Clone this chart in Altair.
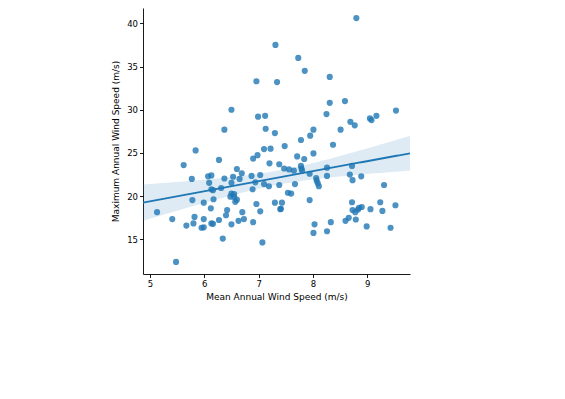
import altair as alt
import numpy as np
import pandas as pd

mean_speed = [7.31, 6.96, 7.34, 6.50, 6.99, 7.12, 6.37, 7.13, 7.30, 8.80,
              7.73, 7.85, 8.31, 8.31, 8.59, 8.25, 9.53, 9.05, 9.08, 9.17,
              8.69, 8.77, 8.51, 8.01, 7.95, 7.78, 7.48, 7.10, 7.22, 5.84,
              8.37, 5.62, 5.77, 6.07, 6.13, 6.09, 6.13, 5.78, 5.99, 6.12,
              5.13, 5.41, 5.82, 5.67, 5.80, 5.99, 5.95, 5.99, 6.13, 5.48,
              6.27, 6.37, 6.53, 6.60, 6.69, 6.65, 6.50, 6.31, 6.16, 6.90,
              6.98, 7.20, 7.38, 6.87, 7.03, 6.94, 7.10, 7.19, 6.89, 7.38,
              6.17, 6.50, 6.55, 6.48, 6.55, 6.60, 6.57, 6.96, 7.03, 7.30,
              7.40, 6.42, 6.70, 6.40, 6.27, 6.16, 6.50, 6.63, 6.73, 6.90,
              6.34, 7.07, 8.01, 7.71, 7.84, 7.47, 7.56, 7.65, 7.78, 7.79,
              7.80, 7.94, 8.06, 8.07, 8.09, 8.11, 8.26, 8.26, 7.67, 7.54,
              7.60, 7.94, 7.43, 7.41, 8.03, 8.01, 8.33, 8.26, 8.60, 8.72,
              8.68, 8.73, 8.89, 9.31, 8.72, 8.73, 8.78, 8.85, 8.90, 8.79,
              8.66, 9.06, 9.24, 9.28, 9.52, 8.99, 9.43, 8.83]
max_speed = [37.5, 33.3, 33.2, 30.0, 29.2, 29.3, 27.7, 27.8, 27.3, 40.6,
             36.0, 34.5, 33.8, 30.8, 31.0, 29.5, 29.9, 29.0, 28.8, 29.3,
             28.6, 28.2, 27.7, 27.7, 27.0, 26.5, 25.8, 25.45, 25.5, 25.3,
             25.95, 23.6, 22.0, 22.3, 22.4, 21.55, 20.8, 19.55, 19.25, 18.6,
             18.15, 17.35, 17.6, 16.6, 16.85, 17.35, 16.35, 16.4, 16.85, 12.4,
             24.2, 22.05, 22.25, 23.15, 22.65, 22.0, 21.55, 20.95, 20.7, 24.35,
             24.75, 23.8, 23.7, 22.35, 22.45, 21.6, 21.4, 21.15, 20.8, 21.3,
             19.65, 20.3, 20.25, 19.95, 19.9, 19.6, 19.35, 19.1, 18.25, 19.25,
             18.5, 18.4, 18.15, 17.8, 17.25, 16.8, 16.75, 17.15, 17.35, 17.0,
             15.1, 14.65, 24.95, 24.6, 24.3, 23.2, 23.1, 22.95, 23.5, 23.2,
             22.95, 22.6, 22.1, 21.8, 21.5, 21.15, 23.3, 22.35, 21.4, 20.4,
             20.3, 19.55, 19.25, 18.55, 16.75, 15.75, 17.0, 15.95, 17.15, 23.5,
             22.5, 21.85, 22.3, 21.3, 19.3, 18.4, 18.15, 18.65, 18.75, 17.3,
             17.5, 18.5, 19.3, 18.3, 18.95, 16.5, 16.35, 18.45]

x_ticks = [5, 6, 7, 8, 9]
y_ticks = [15, 20, 25, 30, 35, 40]
x_domain = [4.871, 9.788]
y_domain = [11.0, 41.77]

df = pd.DataFrame({"mean": mean_speed, "max": max_speed})

# Linear fit with 95% confidence band for the mean prediction
x = np.array(mean_speed)
y = np.array(max_speed)
n = len(x)
slope, intercept = np.polyfit(x, y, 1)
resid = y - (slope * x + intercept)
s = np.sqrt(np.sum(resid ** 2) / (n - 2))
xbar = x.mean()
sxx = np.sum((x - xbar) ** 2)
grid = np.linspace(x_domain[0], x_domain[1], 100)
fit = slope * grid + intercept
se = s * np.sqrt(1.0 / n + (grid - xbar) ** 2 / sxx)
tval = 1.977
fit_df = pd.DataFrame({"mean": grid, "fit": fit,
                       "lo": fit - tval * se, "hi": fit + tval * se})

xscale = alt.Scale(domain=x_domain, nice=False, zero=False)
yscale = alt.Scale(domain=y_domain, nice=False, zero=False)

xaxis = alt.Axis(values=x_ticks, title="Mean Annual Wind Speed (m/s)", format="d")
yaxis = alt.Axis(values=y_ticks, title="Maximum Annual Wind Speed (m/s)", format="d")

points = alt.Chart(df).mark_circle(size=38, opacity=0.8, color="#1f77b4").encode(
    x=alt.X("mean:Q", scale=xscale, axis=xaxis),
    y=alt.Y("max:Q", scale=yscale, axis=yaxis),
)

band = alt.Chart(fit_df).mark_area(color="#1f77b4", opacity=0.15).encode(
    x=alt.X("mean:Q", scale=xscale),
    y=alt.Y("lo:Q", scale=yscale),
    y2="hi:Q",
)

line = alt.Chart(fit_df).mark_line(color="#1f77b4", strokeWidth=1.8).encode(
    x=alt.X("mean:Q", scale=xscale),
    y=alt.Y("fit:Q", scale=yscale),
)

chart = alt.layer(points, band, line).properties(
    width=267, height=266,
    autosize=alt.AutoSizeParams(type="none"),
    padding={"left": 135, "top": 0, "right": 140, "bottom": 100},
).configure_view(stroke=None).configure_axis(
    grid=False,
    domainColor="black",
    domainWidth=0.9,
    tickColor="black",
    tickSize=3.5,
    tickWidth=0.9,
    labelFont="DejaVu Sans",
    labelFontSize=8.5,
    labelColor="black",
    labelPadding=2,
    titleFont="DejaVu Sans",
    titleFontSize=9,
    titleFontWeight="normal",
    titleColor="black",
).configure_axisX(titlePadding=4).configure_axisY(titlePadding=6)

chart.save("out.html", embed_options={"renderer": "svg", "actions": False})
